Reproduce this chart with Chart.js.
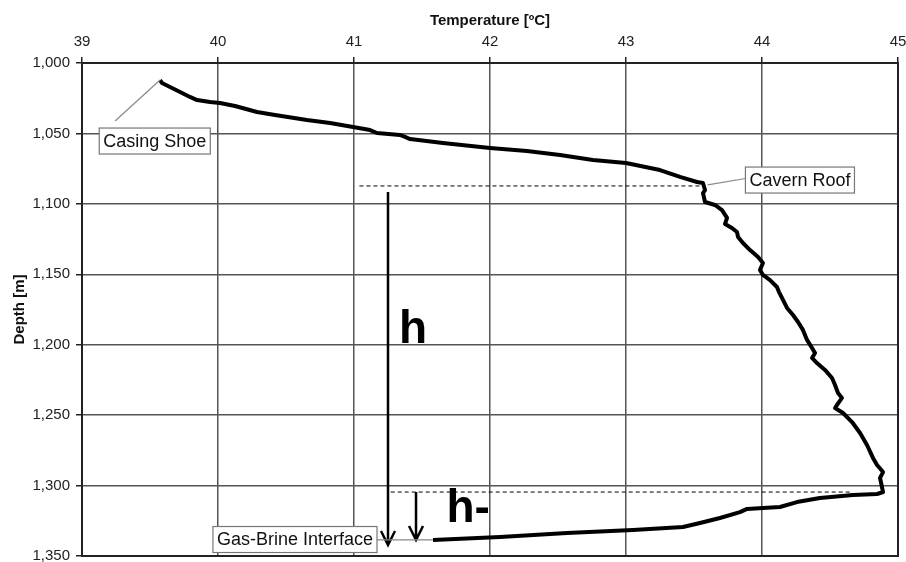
<!DOCTYPE html>
<html>
<head>
<meta charset="utf-8">
<script src="https://cdn.jsdelivr.net/npm/chart.js@4.4.1/dist/chart.umd.min.js"></script>
<style>
  html, body { margin: 0; padding: 0; background: #fff; }
  #wrap { width: 906px; height: 562px; }
</style>
</head>
<body>
<div id="wrap"><canvas id="chart" width="906" height="562"></canvas></div>
<script>
// Temperature log (depth in m, temperature in ºC)
const depths = [1012.1, 1014.2, 1017.0, 1020.6, 1024.1, 1026.3, 1027.7, 1028.4, 1030.5, 1034.8,
  1036.9, 1040.5, 1042.6, 1045.4, 1047.6, 1049.7, 1051.1, 1052.5, 1054.0, 1056.8,
  1060.3, 1062.5, 1065.3, 1068.9, 1071.0, 1076.0, 1080.9, 1084.5, 1085.2, 1090.2,
  1092.3, 1098.7, 1100.8, 1104.4, 1110.0, 1114.3, 1117.1, 1120.0, 1123.5, 1127.8,
  1132.8, 1137.7, 1142.0, 1147.0, 1150.5, 1154.1, 1159.0, 1162.6, 1166.8, 1173.9,
  1178.9, 1183.9, 1189.5, 1196.6, 1202.3, 1205.9, 1209.4, 1213.0, 1217.9, 1223.6,
  1228.6, 1234.3, 1237.8, 1242.8, 1244.9, 1248.5, 1254.9, 1262.7, 1271.2, 1280.4,
  1285.4, 1290.4, 1294.6, 1304.6, 1306.0, 1306.7, 1308.8, 1311.7, 1315.2, 1315.9,
  1316.6, 1318.8, 1323.0, 1326.6, 1329.4, 1331.5, 1333.7, 1336.5, 1338.6];
const temps = [39.574, 39.588, 39.647, 39.721, 39.794, 39.846, 39.941, 40.015, 40.125, 40.287,
  40.419, 40.654, 40.824, 40.993, 41.118, 41.169, 41.338, 41.375, 41.412, 41.654,
  42.000, 42.272, 42.515, 42.757, 43.000, 43.250, 43.397, 43.522, 43.566, 43.581,
  43.566, 43.581, 43.654, 43.706, 43.743, 43.728, 43.779, 43.816, 43.824, 43.860,
  43.912, 43.971, 44.007, 43.985, 44.007, 44.059, 44.110, 44.125, 44.147, 44.184,
  44.228, 44.265, 44.301, 44.331, 44.368, 44.390, 44.368, 44.404, 44.463, 44.515,
  44.537, 44.559, 44.588, 44.551, 44.537, 44.596, 44.662, 44.721, 44.772, 44.816,
  44.846, 44.890, 44.868, 44.890, 44.846, 44.669, 44.426, 44.257, 44.132, 44.007,
  43.890, 43.838, 43.691, 43.544, 43.419, 43.051, 42.566, 42.074, 41.581];

const tempTicks = [39, 40, 41, 42, 43, 44, 45];
const depthTicks = [1000, 1050, 1100, 1150, 1200, 1250, 1300, 1350];

// Marked levels and labels (data coordinates)
const roofDepth = 1087.3;
const interfaceTopDepth = 1304.6;
const callouts = [
  { text: 'Casing Shoe', t: 39.535, d: 1055.4, fromT: 39.574, fromD: 1012.1, toT: 39.243, toD: 1041.2 },
  { text: 'Cavern Roof', t: 44.279, d: 1083.1, fromT: 43.60, fromD: 1086.5, toT: 43.88, toD: 1082.0 },
  { text: 'Gas-Brine Interface', t: 40.566, d: 1338.3, fromT: 40.18, fromD: 1338.6, toT: 41.58, toD: 1338.6 }
];

const FONT = "'Liberation Sans', Arial, sans-serif";

function drawArrow(ctx, x, y1, y2) {
  ctx.beginPath();
  ctx.moveTo(x, y1);
  ctx.lineTo(x, y2);
  ctx.moveTo(x - 7, y2 - 14);
  ctx.lineTo(x, y2);
  ctx.lineTo(x + 7, y2 - 14);
  ctx.stroke();
}

const annotationPlugin = {
  id: 'annotations',
  beforeDatasetsDraw(chart) {
    const ctx = chart.ctx;
    const a = chart.chartArea;
    ctx.save();
    ctx.strokeStyle = '#222';
    ctx.lineWidth = 2;
    ctx.strokeRect(a.left, a.top, a.right - a.left, a.bottom - a.top);
    ctx.restore();
  },
  afterDatasetsDraw(chart) {
    const ctx = chart.ctx;
    const xs = chart.scales.x, ys = chart.scales.y;
    const px = v => xs.getPixelForValue(v);
    const py = v => ys.getPixelForValue(v);
    ctx.save();

    // dashed levels
    ctx.strokeStyle = '#000';
    ctx.lineWidth = 1;
    ctx.setLineDash([4, 3]);
    ctx.beginPath();
    ctx.moveTo(px(41.04), py(roofDepth));
    ctx.lineTo(px(43.57), py(roofDepth));
    ctx.moveTo(px(41.27), py(interfaceTopDepth));
    ctx.lineTo(px(44.66), py(interfaceTopDepth));
    ctx.stroke();
    ctx.setLineDash([]);

    // arrows
    ctx.lineWidth = 2.5;
    drawArrow(ctx, px(41.25), py(1091.6), py(1342.2));
    drawArrow(ctx, px(41.456), py(interfaceTopDepth), py(1338.6));

    // h labels
    ctx.fillStyle = '#000';
    ctx.font = 'bold 46px ' + FONT;
    ctx.textAlign = 'left';
    ctx.textBaseline = 'alphabetic';
    ctx.fillText('h', px(41.33), py(1198.8));
    ctx.fillText('h-', px(41.68), py(1325.9));

    // callouts
    ctx.font = '18px ' + FONT;
    callouts.forEach(c => {
      ctx.strokeStyle = '#888';
      ctx.lineWidth = 1.2;
      ctx.beginPath();
      ctx.moveTo(px(c.fromT), py(c.fromD));
      ctx.lineTo(px(c.toT), py(c.toD));
      ctx.stroke();
      const w = ctx.measureText(c.text).width + 8;
      const h = 26;
      const cx = px(c.t), cy = py(c.d);
      ctx.fillStyle = '#fff';
      ctx.fillRect(cx - w / 2, cy - h / 2, w, h);
      ctx.strokeStyle = '#777';
      ctx.lineWidth = 1.2;
      ctx.strokeRect(cx - w / 2, cy - h / 2, w, h);
      ctx.fillStyle = '#111';
      ctx.textAlign = 'center';
      ctx.textBaseline = 'middle';
      ctx.fillText(c.text, cx, cy + 1);
    });
    ctx.restore();
  }
};

const ctx = document.getElementById('chart').getContext('2d');
new Chart(ctx, {
  type: 'scatter',
  data: {
    datasets: [{
      data: depths.map((d, i) => ({ x: temps[i], y: d })),
      showLine: true,
      borderColor: '#000',
      borderWidth: 4,
      borderJoinStyle: 'round',
      pointRadius: 0,
      tension: 0
    }]
  },
  options: {
    responsive: false,
    animation: false,
    layout: { padding: { left: 0, right: 8, top: 0, bottom: 6 } },
    plugins: { legend: { display: false }, tooltip: { enabled: false } },
    scales: {
      x: {
        type: 'linear',
        position: 'top',
        min: tempTicks[0],
        max: tempTicks[tempTicks.length - 1],
        afterBuildTicks: s => { s.ticks = tempTicks.map(v => ({ value: v })); },
        afterFit: s => { s.height = 63; s.paddingLeft = 0; s.paddingRight = 0; },
        ticks: { color: '#222', font: { family: FONT, size: 15 }, padding: 6, maxRotation: 0 },
        grid: { color: '#555', lineWidth: 1.5, tickLength: 6, tickColor: '#222' },
        border: { color: '#222', width: 2 },
        title: { display: true, text: 'Temperature [ºC]', color: '#111',
          font: { family: FONT, size: 15, weight: 'bold' }, padding: { top: 12, bottom: 0 } }
      },
      y: {
        type: 'linear',
        reverse: true,
        min: depthTicks[0],
        max: depthTicks[depthTicks.length - 1],
        afterBuildTicks: s => { s.ticks = depthTicks.map(v => ({ value: v })); },
        afterFit: s => { s.width = 82; s.paddingTop = 0; s.paddingBottom = 0; },
        ticks: { color: '#222', font: { family: FONT, size: 15 }, padding: 6,
          callback: v => v.toLocaleString('en-US') },
        grid: { color: '#555', lineWidth: 1.5, tickLength: 6, tickColor: '#222' },
        border: { color: '#222', width: 2 },
        title: { display: true, text: 'Depth [m]', color: '#111',
          font: { family: FONT, size: 15, weight: 'bold' }, padding: { top: 11, bottom: 0 } }
      }
    }
  },
  plugins: [annotationPlugin]
});
</script>
</body>
</html>
